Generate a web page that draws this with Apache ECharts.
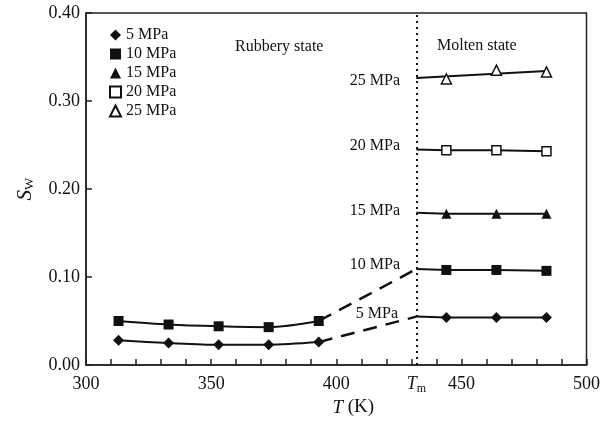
<!DOCTYPE html>
<html>
<head>
<meta charset="utf-8">
<script src="https://cdn.jsdelivr.net/npm/echarts@6/dist/echarts.min.js"></script>
<style>html,body{margin:0;padding:0;background:#fff}#c{width:603px;height:424px}</style>
</head>
<body>
<div id="c"></div>
<script>
// ---- data ----
const TM = 432;
const rubberyT = [313, 333, 353, 373, 393];
const moltenT = [444, 464, 484];
const s5Rubbery = [0.028, 0.025, 0.023, 0.023, 0.026];
const s10Rubbery = [0.050, 0.046, 0.044, 0.043, 0.050];
const s5Molten = [0.054, 0.054, 0.054];
const s10Molten = [0.108, 0.108, 0.107];
const s15Molten = [0.172, 0.172, 0.172];
const s20Molten = [0.244, 0.244, 0.243];
const s25Molten = [0.325, 0.335, 0.333];
// value of each molten line where it starts at Tm, and end of the 25 MPa fit
const lineStartAtTm = { '5': 0.055, '10': 0.109, '15': 0.173, '20': 0.245, '25': 0.326 };
const fit25End = 0.334;
const pressures = ['5 MPa', '10 MPa', '15 MPa', '20 MPa', '25 MPa'];
const xTicks = [300, 350, 400, 450, 500];
const yTicks = [0.00, 0.10, 0.20, 0.30, 0.40];

const FONT = '"Liberation Serif", "Times New Roman", serif';
const BLACK = '#111';

const zip = (xs, ys) => xs.map((x, i) => [x, ys[i]]);
const styleFor = {
  '5 MPa': { symbol: 'diamond', size: 11, fill: BLACK },
  '10 MPa': { symbol: 'rect', size: 10, fill: BLACK },
  '15 MPa': { symbol: 'triangle', size: 10, fill: BLACK },
  '20 MPa': { symbol: 'rect', size: 9, fill: '#fff' },
  '25 MPa': { symbol: 'triangle', size: 10, fill: '#fff' }
};

function molten(name, key, vals, withLine) {
  const st = styleFor[name];
  const data = [];
  if (withLine) data.push({ value: [TM, lineStartAtTm[key]], symbol: 'none' });
  zip(moltenT, vals).forEach(p => data.push(p));
  return {
    name: name, type: 'line', data: data,
    symbol: st.symbol, symbolSize: st.size, showAllSymbol: true,
    lineStyle: { color: BLACK, width: withLine ? 2 : 0 },
    itemStyle: { color: st.fill, borderColor: BLACK, borderWidth: st.fill === '#fff' ? 1.5 : 0 },
    z: 3
  };
}

const series = [
  {
    name: '5 MPa rubbery', type: 'line', data: zip(rubberyT, s5Rubbery), smooth: 0.3,
    symbol: 'diamond', symbolSize: 11, lineStyle: { color: BLACK, width: 2 },
    itemStyle: { color: BLACK }
  },
  {
    name: '10 MPa rubbery', type: 'line', data: zip(rubberyT, s10Rubbery), smooth: 0.3,
    symbol: 'rect', symbolSize: 10, lineStyle: { color: BLACK, width: 2 },
    itemStyle: { color: BLACK }
  },
  {
    name: '5 MPa dash', type: 'line', symbol: 'none',
    data: [[rubberyT[4], s5Rubbery[4]], [TM, lineStartAtTm['5']]],
    lineStyle: { color: BLACK, width: 2.5, type: [14, 9] }
  },
  {
    name: '10 MPa dash', type: 'line', symbol: 'none',
    data: [[rubberyT[4], s10Rubbery[4]], [TM, lineStartAtTm['10']]],
    lineStyle: { color: BLACK, width: 2.5, type: [14, 9] }
  },
  molten('5 MPa', '5', s5Molten, true),
  molten('10 MPa', '10', s10Molten, true),
  molten('15 MPa', '15', s15Molten, true),
  molten('20 MPa', '20', s20Molten, true),
  molten('25 MPa', '25', s25Molten, false),
  {
    name: '25 MPa fit', type: 'line', symbol: 'none',
    data: [[TM, lineStartAtTm['25']], [moltenT[2], fit25End]],
    lineStyle: { color: BLACK, width: 2 }, z: 2
  },
  {
    name: 'Tm line', type: 'line', data: [], symbol: 'none',
    markLine: {
      silent: true, symbol: 'none', animation: false,
      lineStyle: { color: BLACK, width: 2, type: [2, 4] },
      label: {
        show: true, position: 'start', distance: 8,
        formatter: '{t|T}{m|m}',
        rich: {
          t: { fontFamily: FONT, fontSize: 18, fontStyle: 'italic', color: BLACK },
          m: { fontFamily: FONT, fontSize: 12, color: BLACK, padding: [10, 0, 0, 0] }
        }
      },
      data: [{ xAxis: TM }]
    }
  }
];

const annotations = [
  { text: 'Rubbery state', x: 235, y: 47, align: 'left' },
  { text: 'Molten state', x: 437, y: 46, align: 'left' },
  { text: '25 MPa', x: 400, y: 81, align: 'right' },
  { text: '20 MPa', x: 400, y: 146, align: 'right' },
  { text: '15 MPa', x: 400, y: 211, align: 'right' },
  { text: '10 MPa', x: 400, y: 265, align: 'right' },
  { text: '5 MPa', x: 398, y: 314, align: 'right' }
];

const chart = echarts.init(document.getElementById('c'), null, { renderer: 'canvas' });
chart.setOption({
  animation: false,
  backgroundColor: '#fff',
  grid: { left: 86, right: 12, top: 13, bottom: 59, show: true, borderColor: '#222', borderWidth: 1.5, backgroundColor: 'transparent' },
  xAxis: {
    type: 'value', min: xTicks[0], max: xTicks[xTicks.length - 1], interval: 50,
    axisLine: { show: true, lineStyle: { color: '#222', width: 1.5 } },
    axisTick: { show: true, inside: true, length: 6, lineStyle: { color: '#222', width: 1.5 } },
    minorTick: { show: true, splitNumber: 5, length: 6, lineStyle: { color: '#222', width: 1.5 } },
    splitLine: { show: false },
    axisLabel: { fontFamily: FONT, fontSize: 18, color: BLACK, margin: 10 },
    name: '{i|T} (K)', nameLocation: 'middle', nameGap: 33,
    nameTextStyle: {
      fontFamily: FONT, fontSize: 19, color: BLACK, padding: [0, 0, 0, 34],
      rich: { i: { fontFamily: FONT, fontSize: 19, fontStyle: 'italic', color: BLACK } }
    }
  },
  yAxis: {
    type: 'value', min: yTicks[0], max: yTicks[yTicks.length - 1], interval: 0.1,
    axisLine: { show: true, lineStyle: { color: '#222', width: 1.5 } },
    axisTick: { show: true, inside: true, length: 6, lineStyle: { color: '#222', width: 1.5 } },
    splitLine: { show: false },
    axisLabel: { fontFamily: FONT, fontSize: 18, color: BLACK, margin: 6, formatter: v => v.toFixed(2) },
    name: '{s|S}{w|W}', nameLocation: 'middle', nameGap: 50, nameRotate: 90,
    nameTextStyle: {
      rich: {
        s: { fontFamily: FONT, fontSize: 21, fontStyle: 'italic', color: BLACK },
        w: { fontFamily: FONT, fontSize: 13, color: BLACK, padding: [9, 0, 0, 0] }
      }
    }
  },
  legend: {
    orient: 'vertical', left: 104, top: 22, itemGap: 3, itemWidth: 11, itemHeight: 11,
    textStyle: { fontFamily: FONT, fontSize: 16, color: BLACK, lineHeight: 16 },
    selectedMode: false,
    data: pressures.map(p => ({ name: p, icon: styleFor[p].symbol }))
  },
  graphic: annotations.map(a => ({
    type: 'text', x: a.x, y: a.y,
    style: { text: a.text, fill: BLACK, font: '16px ' + FONT, textAlign: a.align, textVerticalAlign: 'middle' }
  })),
  series: series
});
</script>
</body>
</html>
